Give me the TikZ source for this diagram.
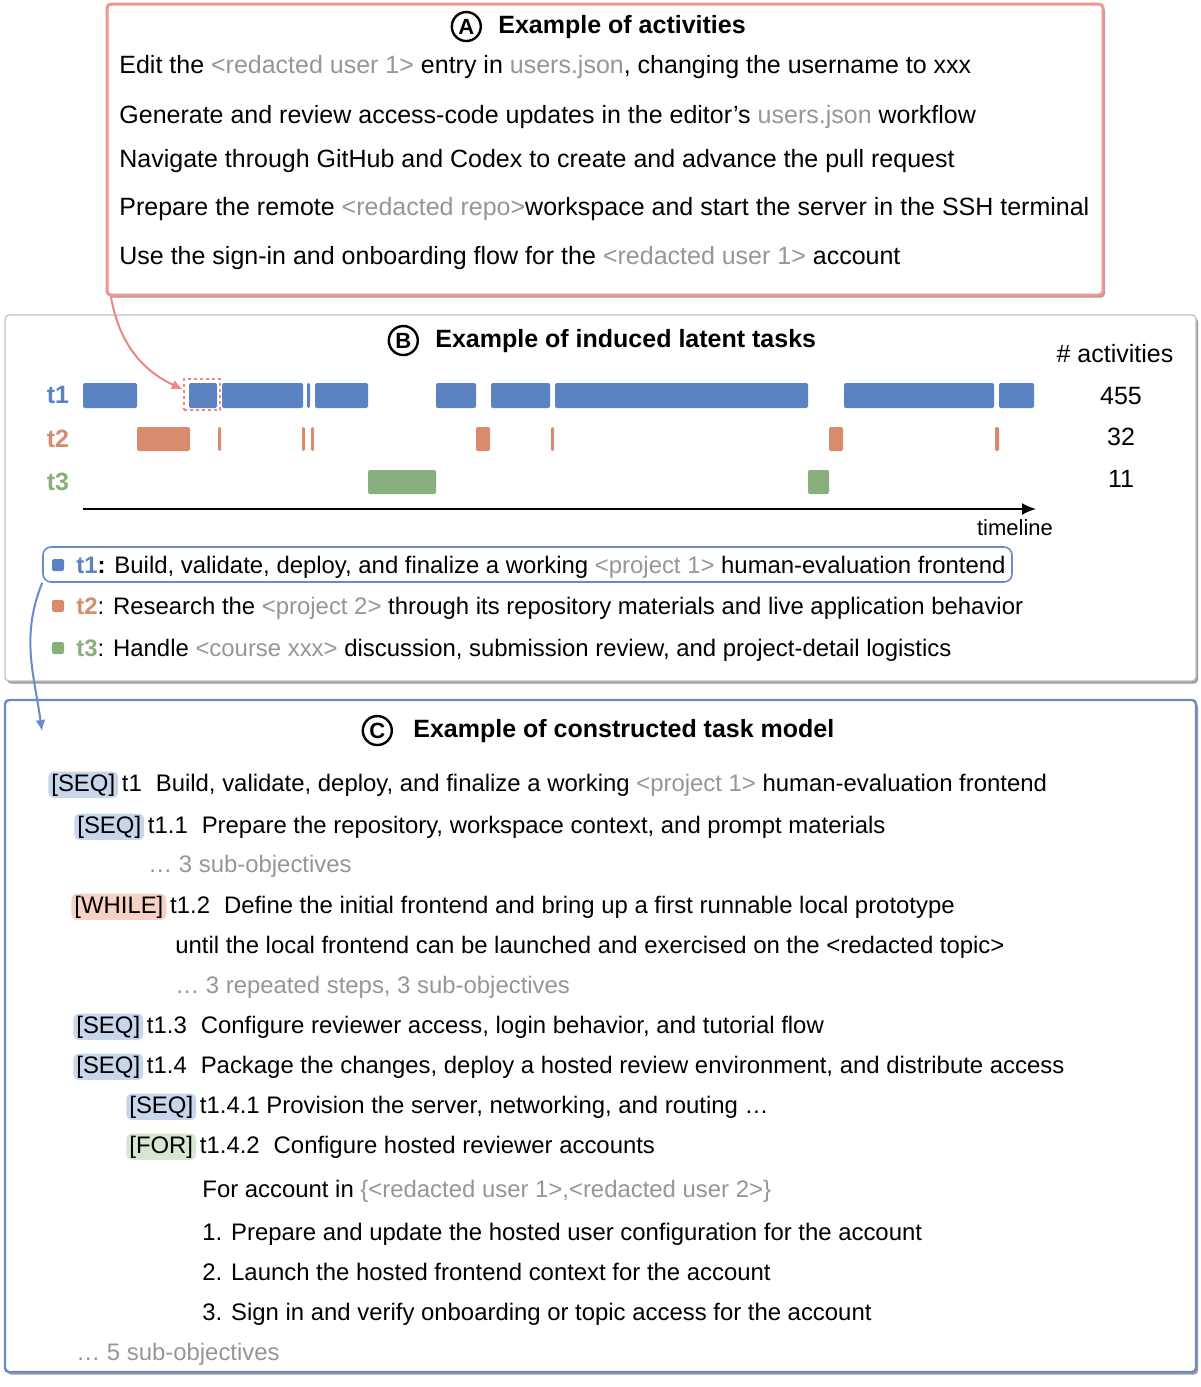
\documentclass[tikz,border=0pt]{standalone}
\usepackage{fontspec}
\setmainfont{Liberation Sans}
\usepackage{tikz}
\usetikzlibrary{arrows.meta,positioning,shadows}

\definecolor{tone}{RGB}{91,131,193}
\definecolor{ttwo}{RGB}{217,139,110}
\definecolor{tthree}{RGB}{137,175,125}
\definecolor{gtext}{RGB}{150,150,150}
\definecolor{aborder}{RGB}{240,150,142}
\definecolor{aarrow}{RGB}{238,135,125}
\definecolor{cborder}{RGB}{105,140,198}
\definecolor{seqfill}{RGB}{200,214,236}
\definecolor{whilefill}{RGB}{245,210,196}
\definecolor{forfill}{RGB}{214,230,208}

\newcommand{\gr}[1]{\textcolor{gtext}{#1}}
\newcommand{\tgap}{\hspace{7pt}}

\tikzset{
mytext/.style={
  anchor=base west,
  inner sep=0pt,
  font=\fontsize{12.5}{15}\selectfont,
  }
}
\tikzset{
mybody/.style={
  mytext,
  font=\fontsize{11.95}{14}\selectfont,
  }
}
\tikzset{
mytitle/.style={
  mytext,
  font=\fontsize{12.5}{15}\selectfont\bfseries,
  }
}
\tikzset{
mynum/.style={
  anchor=base,
  inner sep=0pt,
  font=\fontsize{12.5}{15}\selectfont,
  }
}
\tikzset{
mycircle/.style={
  circle,
  draw=black,
  line width=1.2pt,
  inner sep=0pt,
  minimum size=14.5pt,
  font=\fontsize{11}{13}\selectfont\bfseries,
  }
}
\tikzset{
mytag/.style={
  mybody,
  inner xsep=1.5pt,
  inner ysep=1pt,
  rounded corners=2.5pt,
  }
}
\tikzset{
mysq/.style={
  rectangle,
  inner sep=0pt,
  minimum size=6pt,
  rounded corners=0.8pt,
  }
}
\tikzset{
myshadow/.style={
  drop shadow={shadow xshift=1pt, shadow yshift=-1.3pt, fill=black!55, opacity=0.7},
  }
}
\tikzset{
myline/.style={
  line width=1pt,
  -{Latex[length=5.5pt,width=5pt]}
  }
}

\begin{document}
\begin{tikzpicture}[x=0.5pt, y=-0.5pt]
    \useasboundingbox (0,0) rectangle (1200,1387);

    % panels
    \path [draw=aborder, line width=1.5pt, fill=white, rounded corners=2pt, myshadow] (107,4) rectangle (1103,295);
    \path [draw=black!25, line width=0.6pt, fill=white, rounded corners=2pt, myshadow] (5,315) rectangle (1196,681);
    \path [draw=cborder, line width=1.2pt, fill=white, rounded corners=2pt, myshadow] (5,700) rectangle (1196,1372);

    % activities part
    \node[mytitle] (ttlA) at (498,33) {Example of activities};
    \node[mycircle, left=8pt of ttlA] (circA) {A};
    \node[mytext] (act1) at (119,73) {Edit the \gr{<redacted user 1>} entry in \gr{users.json}, changing the username to xxx};
    \node[mytext] (act2) at (119,123) {Generate and review access-code updates in the editor's \gr{users.json} workflow};
    \node[mytext] (act3) at (119,167) {Navigate through GitHub and Codex to create and advance the pull request};
    \node[mytext] (act4) at (119,215) {Prepare the remote \gr{<redacted repo>}workspace and start the server in the SSH terminal};
    \node[mytext] (act5) at (119,264) {Use the sign-in and onboarding flow for the \gr{<redacted user 1>} account};

    % latent tasks part
    \node[mytitle] (ttlB) at (435,347) {Example of induced latent tasks};
    \node[mycircle, left=8pt of ttlB] (circB) {B};
    \node[mynum] (acts) at (1115,362) {\# activities};
    \node[mynum, font=\fontsize{12.5}{15}\selectfont\bfseries, text=tone] (lab1) at (58,403) {t1};
    \node[mynum, font=\fontsize{12.5}{15}\selectfont\bfseries, text=ttwo] (lab2) at (58,447) {t2};
    \node[mynum, font=\fontsize{12.5}{15}\selectfont\bfseries, text=tthree] (lab3) at (58,490) {t3};
    \node[mynum] (cnt1) at (1121,404) {455};
    \node[mynum] (cnt2) at (1121,445) {32};
    \node[mynum] (cnt3) at (1121,487) {11};

    % t1 bars
    \path [fill=tone, rounded corners=1pt] (83,383) rectangle (137,408);
    \path [fill=tone, rounded corners=1pt] (189,383) rectangle (217,408);
    \path [fill=tone, rounded corners=1pt] (222,383) rectangle (303,408);
    \path [fill=tone, rounded corners=0.7pt] (307,383) rectangle (310,408);
    \path [fill=tone, rounded corners=1pt] (315,383) rectangle (368,408);
    \path [fill=tone, rounded corners=1pt] (436,383) rectangle (476,408);
    \path [fill=tone, rounded corners=1pt] (491,383) rectangle (550,408);
    \path [fill=tone, rounded corners=1pt] (555,383) rectangle (808,408);
    \path [fill=tone, rounded corners=1pt] (844,383) rectangle (994,408);
    \path [fill=tone, rounded corners=1pt] (999,383) rectangle (1034,408);
    % t2 bars
    \path [fill=ttwo, rounded corners=1pt] (137,427) rectangle (190,451);
    \path [fill=ttwo, rounded corners=0.7pt] (218,427) rectangle (221,451);
    \path [fill=ttwo, rounded corners=0.7pt] (302,427) rectangle (305,451);
    \path [fill=ttwo, rounded corners=0.7pt] (311,427) rectangle (314,451);
    \path [fill=ttwo, rounded corners=1pt] (476,427) rectangle (490,451);
    \path [fill=ttwo, rounded corners=0.7pt] (551,427) rectangle (554,451);
    \path [fill=ttwo, rounded corners=1pt] (829,427) rectangle (843,451);
    \path [fill=ttwo, rounded corners=0.7pt] (995,427) rectangle (999,451);
    % t3 bars
    \path [fill=tthree, rounded corners=1pt] (368,470) rectangle (436,494);
    \path [fill=tthree, rounded corners=1pt] (808,470) rectangle (829,494);

    % selected activity
    \node[draw=aarrow, line width=1.3pt, dash pattern=on 1.4pt off 1.6pt, inner sep=0pt, minimum width=18pt, minimum height=15.5pt] (sel) at (202,394.5) {};

    % timeline
    \coordinate (tl_start) at (83,509);
    \coordinate (tl_end) at (1036,509);
    \draw[line width=1pt, -{Latex[length=7pt,width=6pt]}] (tl_start) -- (tl_end);
    \node[mynum, font=\fontsize{11}{13}\selectfont] (tlab) at (1015,535) {timeline};

    % legend
    \node[draw=cborder, line width=0.8pt, rounded corners=4pt, inner sep=0pt, minimum width=484.5pt, minimum height=17.5pt] (legbox) at (527.5,564.5) {};
    \node[mysq, fill=tone] (sq1) at (58,565) {};
    \node[mysq, fill=ttwo] (sq2) at (58,606) {};
    \node[mysq, fill=tthree] (sq3) at (58,648) {};
    \node[mybody] (leg1) at (76,573) {\textbf{\textcolor{tone}{t1}:} Build, validate, deploy, and finalize a working \gr{<project 1>} human-evaluation frontend};
    \node[mybody] (leg2) at (76,614) {\textbf{\textcolor{ttwo}{t2}}: Research the \gr{<project 2>} through its repository materials and live application behavior};
    \node[mybody] (leg3) at (76,656) {\textbf{\textcolor{tthree}{t3}}: Handle \gr{<course xxx>} discussion, submission review, and project-detail logistics};

    % task model part
    \node[mytitle] (ttlC) at (413,737) {Example of constructed task model};
    \node[mycircle, left=10pt of ttlC] (circC) {C};

    \node[mytag, fill=seqfill] (tag1) at (48,791) {[SEQ]};
    \node[mybody, xshift=1.5pt] (task1) at (tag1.base east) {t1\tgap Build, validate, deploy, and finalize a working \gr{<project 1>} human-evaluation frontend};
    \node[mytag, fill=seqfill] (tag11) at (74,833) {[SEQ]};
    \node[mybody, xshift=1.5pt] (task11) at (tag11.base east) {t1.1\tgap Prepare the repository, workspace context, and prompt materials};
    \node[mybody, text=gtext] (more11) at (148,872) {… 3 sub-objectives};
    \node[mytag, fill=whilefill] (tag12) at (71,913) {[WHILE]};
    \node[mybody, xshift=1.5pt] (task12) at (tag12.base east) {t1.2\tgap Define the initial frontend and bring up a first runnable local prototype};
    \node[mybody] (until12) at (175,953) {until the local frontend can be launched and exercised on the <redacted topic>};
    \node[mybody, text=gtext] (more12) at (175,993) {… 3 repeated steps, 3 sub-objectives};
    \node[mytag, fill=seqfill] (tag13) at (73,1033) {[SEQ]};
    \node[mybody, xshift=1.5pt] (task13) at (tag13.base east) {t1.3\tgap Configure reviewer access, login behavior, and tutorial flow};
    \node[mytag, fill=seqfill] (tag14) at (73,1073) {[SEQ]};
    \node[mybody, xshift=1.5pt] (task14) at (tag14.base east) {t1.4\tgap Package the changes, deploy a hosted review environment, and distribute access};
    \node[mytag, fill=seqfill] (tag141) at (126,1113) {[SEQ]};
    \node[mybody, xshift=1.5pt] (task141) at (tag141.base east) {t1.4.1 Provision the server, networking, and routing …};
    \node[mytag, fill=forfill] (tag142) at (126,1153) {[FOR]};
    \node[mybody, xshift=1.5pt] (task142) at (tag142.base east) {t1.4.2\tgap Configure hosted reviewer accounts};
    \node[mybody] (forin) at (202,1197) {For account in \gr{\{<redacted user 1>,<redacted user 2>\}}};
    \node[mybody] (step1) at (202,1240) {1. Prepare and update the hosted user configuration for the account};
    \node[mybody] (step2) at (202,1280) {2. Launch the hosted frontend context for the account};
    \node[mybody] (step3) at (202,1320) {3. Sign in and verify onboarding or topic access for the account};
    \node[mybody, text=gtext] (more1) at (76,1360) {… 5 sub-objectives};

    % edges
    \coordinate (a_out) at (111,297);
    \coordinate (c_in) at (42,731);
    \draw[myline, color=aarrow] (a_out) to[out=-80, in=155] (sel.165);
    \draw[myline, color=cborder] (legbox.south west) to[out=-112, in=98] (c_in);
\end{tikzpicture}
\end{document}
